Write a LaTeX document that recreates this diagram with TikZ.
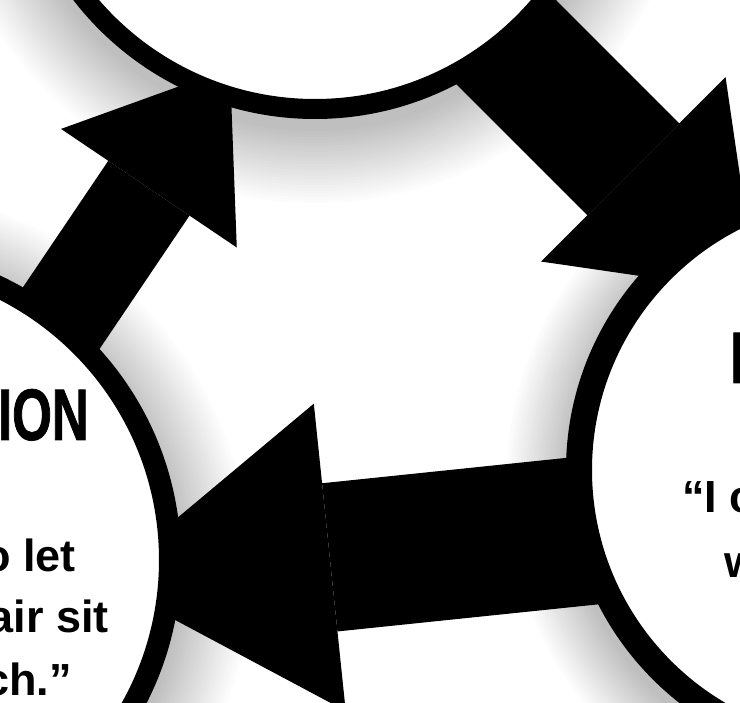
\documentclass[tikz,border=0pt]{standalone}
\usepackage{fontspec}
\setmainfont{Liberation Sans}
\newfontfamily\titlefont[FakeStretch=0.7, FakeBold=1]{Liberation Sans}
\usepackage{tikz}
\usetikzlibrary{arrows.meta}

\begin{document}
\begin{tikzpicture}[x=1pt, y=-1pt,
    bubble/.style={circle, draw=black, fill=white, inner sep=0pt},
    title/.style={font=\titlefont\bfseries\fontsize{73}{80}\selectfont, inner sep=0pt},
    body/.style={font=\bfseries\fontsize{45}{54}\selectfont, inner sep=0pt}]
    % Khung cắt
    \useasboundingbox (0,0) rectangle (740,703);
    \clip (0,0) rectangle (740,703);

    % Tâm ba vòng tròn
    \coordinate (oTop) at (315,-186);
    \coordinate (oLeft) at (-133,560);
    \coordinate (oRight) at (862,470);

    % Quầng xám quanh vòng tròn
    \foreach \p/\r/\w in {oTop/305/75, oLeft/314/72, oRight/296/62}
        \foreach \k [evaluate=\k as \g using 52*(1-(1-\k/25)*(1-\k/25)),
                     evaluate=\k as \d using \r+\w*(1-\k/25)] in {0,...,25}
            \fill[black!\g] ([yshift=-12pt]\p) circle (\d pt);

    % Mũi tên lớn
    \coordinate (tailA) at (6,400);   \coordinate (tipA) at (230,68);
    \coordinate (tailB) at (439,-25); \coordinate (tipB) at (757,293);
    \coordinate (tailC) at (699,519); \coordinate (tipC) at (102,581);
    \draw[line width=98pt, -{Triangle[length=145pt, width=212pt, line width=0pt]}] (tailA) -- (tipA);
    \draw[line width=130pt, -{Triangle[length=175pt, width=261pt, line width=0pt]}] (tailB) -- (tipB);
    \draw[line width=149pt, -{Triangle[length=229pt, width=309pt, line width=0pt]}] (tailC) -- (tipC);

    % Vòng tròn
    \node[bubble, minimum size=590pt, line width=20pt] (cTop) at (oTop) {};
    \node[bubble, minimum size=606pt, line width=22pt] (cLeft) at (oLeft) {};
    \node[bubble, minimum size=566pt, line width=26pt] (cRight) at (oRight) {};

    % Chữ
    \node[title, anchor=base east] (leftTitle) at (89,440) {ION};
    \node[body, anchor=base east] (leftA) at (76,572) {o let};
    \node[body, anchor=base east] (leftB) at (109,633) {air sit};
    \node[body, anchor=base east] (leftC) at (72,695) {ch.”};
    \node[title, anchor=base west] (rightTitle) at (730,383) {I};
    \node[body, anchor=base west] (rightA) at (682,513) {“I c};
    \node[body, anchor=base west] (rightB) at (724,578) {w};
\end{tikzpicture}
\end{document}
